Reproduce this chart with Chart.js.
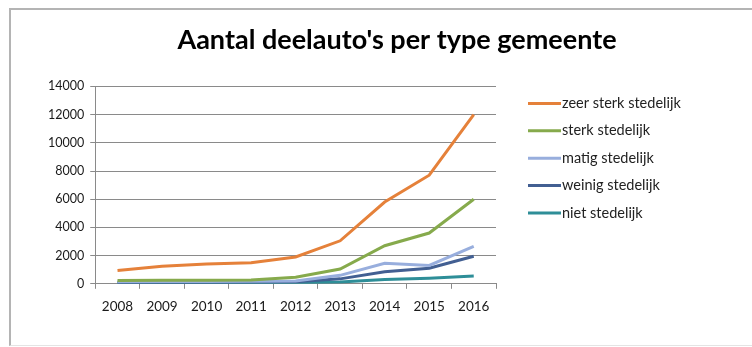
<!DOCTYPE html>
<html>
<head>
<meta charset="utf-8">
<script src="https://cdn.jsdelivr.net/npm/chart.js@4.4.1/dist/chart.umd.min.js"></script>
<style>
  html, body { margin: 0; padding: 0; background: #fff; }
  #frame { position: absolute; left: 9px; top: 8px; width: 760px; height: 335px; border-left: 2px solid #b4b4b4; border-top: 2px solid #b4b4b4; border-bottom: 1px solid #e4e4e4; }
  #wrap { position: absolute; left: 0; top: 0; width: 752px; height: 347px; }
</style>
</head>
<body>
<div id="frame"></div>
<div id="wrap"><canvas id="c" width="752" height="347"></canvas></div>
<script>
const years = ['2008','2009','2010','2011','2012','2013','2014','2015','2016'];
const zeerSterk = [950, 1250, 1400, 1500, 1900, 3050, 5800, 7700, 12000];
const sterk     = [230, 250, 260, 270, 470, 1050, 2700, 3600, 6000];
const matig     = [150, 160, 170, 180, 200, 600, 1450, 1300, 2650];
const weinig    = [100, 110, 110, 120, 150, 350, 850, 1100, 1950];
const niet      = [50, 60, 60, 70, 80, 130, 300, 400, 550];
const seriesNames = ['zeer sterk stedelijk','sterk stedelijk','matig stedelijk','weinig stedelijk','niet stedelijk'];
const colors = ['#E5813A', '#86AA4C', '#98AEDD', '#425F92', '#2E8E98'];
const seriesData = [zeerSterk, sterk, matig, weinig, niet];

Chart.defaults.font.family = 'Lato, "Liberation Sans", sans-serif';
Chart.defaults.color = '#1a1a1a';

const lineLegend = {
  id: 'lineLegend',
  afterDraw(chart) {
    const ctx = chart.ctx;
    const area = chart.chartArea;
    const x0 = area.right + 32;
    let y = area.top + 17;
    ctx.save();
    ctx.font = '14.5px Lato, sans-serif';
    ctx.textBaseline = 'middle';
    ctx.textAlign = 'left';
    chart.data.datasets.forEach(ds => {
      ctx.strokeStyle = ds.borderColor;
      ctx.lineWidth = 3;
      ctx.beginPath();
      ctx.moveTo(x0, y);
      ctx.lineTo(x0 + 33, y);
      ctx.stroke();
      ctx.fillStyle = '#222';
      ctx.fillText(ds.label, x0 + 34, y);
      y += 27.4;
    });
    ctx.restore();
  }
};

new Chart(document.getElementById('c'), {
  type: 'line',
  data: {
    labels: years,
    datasets: seriesData.map((d, i) => ({
      label: seriesNames[i],
      data: d,
      borderColor: colors[i],
      backgroundColor: colors[i],
      borderWidth: 3,
      pointRadius: 0,
      tension: 0,
      fill: false
    }))
  },
  plugins: [lineLegend],
  options: {
    responsive: false,
    animation: false,
    layout: { padding: { left: 42, right: 0, top: 0, bottom: 22 } },
    plugins: {
      title: {
        display: true,
        text: "Aantal deelauto's per type gemeente",
        font: { size: 27, weight: 'bold', family: 'Lato, sans-serif' },
        color: '#000',
        padding: { top: 24, bottom: 30 }
      },
      legend: { display: false },
      tooltip: { enabled: false }
    },
    scales: {
      x: {
        offset: true,
        grid: { offset: true, drawOnChartArea: false, drawTicks: true, tickLength: 5, color: '#8a8a8a' },
        border: { color: '#8a8a8a' },
        ticks: { font: { size: 13.5 }, color: '#1a1a1a', padding: 10 }
      },
      y: {
        min: 0,
        max: 14000,
        ticks: { stepSize: 2000, font: { size: 12.5 }, color: '#1a1a1a', padding: 6,
                 callback: v => String(v) },
        grid: { color: '#8a8a8a', tickLength: 5 },
        border: { color: '#8a8a8a' }
      },
      yRight: {
        position: 'right',
        grid: { drawOnChartArea: false, drawTicks: false },
        border: { display: false },
        ticks: { display: false },
        afterFit(scale) { scale.width = 256; }
      }
    }
  }
});
</script>
</body>
</html>
